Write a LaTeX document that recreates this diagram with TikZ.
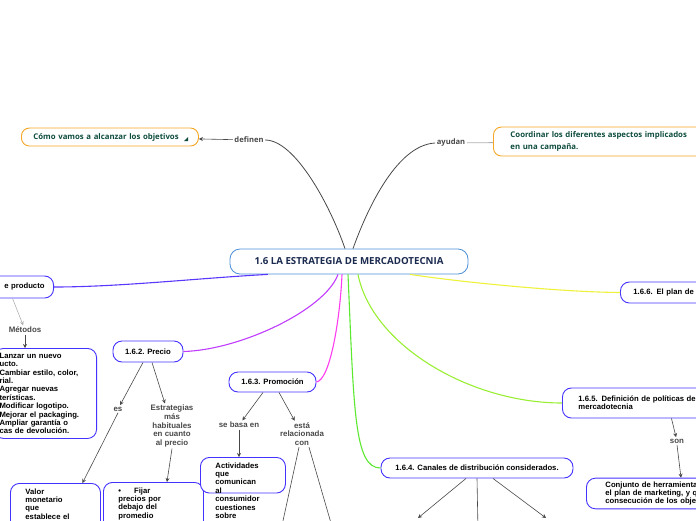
\documentclass[tikz,border=0pt]{standalone}
\usepackage{fontspec}
\setmainfont{Liberation Sans}
\newfontfamily\headfont{Open Sans}
\usetikzlibrary{arrows.meta,positioning}
\definecolor{blu}{HTML}{4433FF}
\definecolor{cprod}{HTML}{5A37FF}
\definecolor{cprec}{HTML}{C03CFF}
\definecolor{cprom}{HTML}{FF3CF0}
\definecolor{ccan}{HTML}{5CE830}
\definecolor{cpol}{HTML}{99EE33}
\definecolor{cplan}{HTML}{EEF23A}
\definecolor{cenb}{HTML}{4A8FD8}
\definecolor{navy}{HTML}{1B2B4F}
\definecolor{org}{HTML}{F5A623}
\definecolor{dgreen}{HTML}{0E4D3E}
\definecolor{lgr}{HTML}{B0B0B0}
\definecolor{dgr}{HTML}{484848}

\begin{document}
\begin{tikzpicture}[
  x=1pt,y=-1pt,
  main/.style={draw=cenb,line width=0.8pt,rounded corners=10pt,fill=white,text=navy,
    minimum width=238pt,minimum height=25pt,font=\headfont\bfseries\fontsize{9.7}{11}\selectfont},
  goal/.style={draw=org,line width=0.9pt,rounded corners=8pt,fill=white,text=dgreen,align=left,
    font=\headfont\bfseries\fontsize{7.8}{11.5}\selectfont},
  idea/.style={draw=blu,line width=0.9pt,rounded corners=9pt,fill=white,text=black,align=left,
    font=\bfseries\fontsize{7.7}{8.4}\selectfont},
  lbl/.style={text=dgr,inner sep=1.5pt,align=center,font=\bfseries\fontsize{7.9}{8.6}\selectfont},
  hlbl/.style={lbl,font=\headfont\bfseries\fontsize{7.6}{9}\selectfont},
  ar/.style={-{Stealth[length=4pt,width=4pt]},dgr,line width=0.6pt},
  br/.style={line width=1.1pt},
]
\useasboundingbox (0,0) rectangle (696,520);
\clip (0,0) rectangle (696,520);

% centre and top
\node[main] (cen) at (349,261.5) {1.6 LA ESTRATEGIA DE MERCADOTECNIA};
\node[goal,anchor=west,text width=153pt,inner xsep=12pt,minimum height=18pt] (como) at (21,137) {Cómo vamos a alcanzar los objetivos};
\fill[dgreen] (184,141) -- (188,137) -- (188,141) -- cycle;
\node[hlbl] (definen) at (249,140) {definen};
\node[hlbl] (ayudan) at (451,143) {ayudan};
\node[goal,anchor=west,text width=200pt,inner xsep=17pt,minimum height=29pt] (coord) at (493,141.5) {Coordinar los diferentes aspectos implicados\\en una campaña.};

% branches
\node[idea,anchor=east,text width=100pt,align=right,inner xsep=9pt,minimum height=22pt] (prod) at (54,287) {e producto};
\node[lbl] (metodos) at (25,330) {Métodos};
\node[idea,anchor=north east,text width=92pt,inner xsep=5pt,minimum height=90pt] (lanzar) at (97,348) {Lanzar un nuevo\\ucto.\\Cambiar estilo, color,\\rial.\\Agregar nuevas\\terísticas.\\Modificar logotipo.\\Mejorar el packaging.\\Ampliar garantía o\\cas de devolución.};

\node[idea,align=center,minimum width=70pt,minimum height=21pt] (precio) at (148,351.5) {1.6.2. Precio};
\node[lbl] (es) at (118,409) {es};
\node[lbl] (estrat) at (172,426) {Estrategias\\más\\habituales\\en cuanto\\al precio};
\node[idea,anchor=north west,text width=60pt,inner xsep=15pt,inner ysep=5pt,text depth=40pt] (valor) at (10,483) {Valor\\monetario\\que\\establece el};
\node[idea,anchor=north west,text width=70pt,inner xsep=15pt,inner ysep=5pt,text depth=40pt] (fijar) at (103,482) {\textbullet\hspace{13pt}Fijar\\precios por\\debajo del\\promedio};

\node[idea,align=center,minimum width=87pt,minimum height=20pt] (promo) at (272.5,382) {1.6.3. Promoción};
\node[lbl] (basa) at (239,425) {se basa en};
\node[lbl] (rel) at (302,434) {está\\relacionada\\con};
\node[idea,anchor=north west,text width=55pt,inner xsep=15pt,inner ysep=5pt,text depth=20pt] (activ) at (200,457) {Actividades\\que\\comunican\\al\\consumidor\\cuestiones\\sobre};
\coordinate (relA) at (281,530);
\coordinate (relB) at (333,530);

\node[idea,align=center,minimum width=192pt,minimum height=20pt] (canal) at (477,468) {1.6.4. Canales de distribución considerados.};
\coordinate (canL) at (418,518);
\coordinate (canM) at (478,530);
\coordinate (canR) at (546,518);

\node[idea,anchor=west,text width=150pt,inner xsep=16pt,minimum height=30pt] (polit) at (562,403) {1.6.5. Definición de políticas de\\mercadotecnia};
\node[lbl] (son) at (677,441) {son};
\node[idea,anchor=west,text width=150pt,inner xsep=19pt,minimum height=29pt] (conj) at (586,493.5) {Conjunto de herramientas\\el plan de marketing, y qu\\consecución de los objeti};

\node[idea,anchor=west,text width=100pt,inner xsep=13pt,minimum height=21pt] (plan) at (620,292.5) {1.6.6. El plan de m};

% connectors
\draw[ar] (definen) -- (como);
\draw[dgr,line width=0.8pt] ([xshift=-4pt]cen.north) .. controls (330,205) and (295,140) .. (definen.east);
\draw[dgr,line width=0.8pt] ([xshift=4pt]cen.north) .. controls (365,215) and (395,145) .. (ayudan.west);
\draw[lgr,line width=0.8pt] (ayudan) -- (coord);

\draw[br,cprod] ([xshift=-81pt]cen.south) .. controls (200,278) and (120,287) .. (prod.east);
\draw[br,cprec] ([xshift=-11pt]cen.south) .. controls (325,310) and (240,350) .. (precio.east);
\draw[br,cprom] ([xshift=-7pt]cen.south) .. controls (340,320) and (330,380) .. (promo.east);
\draw[br,ccan] ([xshift=-1pt]cen.south) .. controls (354,410) and (354,468) .. (canal.west);
\draw[br,cpol] ([xshift=9pt]cen.south) .. controls (372,345) and (470,403) .. (polit.west);
\draw[br,cplan] ([xshift=61pt]cen.south) .. controls (460,282) and (560,292) .. (plan.west);

\draw[ar,lgr] ([xshift=18pt]prod.south) -- (metodos);
\draw[ar] (metodos.south) -- (metodos.south |- lanzar.north);
\draw[ar] ([xshift=-5pt]precio.south) -- (es);
\draw[ar] ([xshift=4pt]precio.south) -- (estrat);
\draw[ar] (es.south) -- ([xshift=27pt]valor.north);
\draw[ar] (estrat.south) -- ([xshift=13.5pt]fijar.north);
\draw[ar] ([xshift=-9.5pt]promo.south) -- (basa);
\draw[ar] ([xshift=6.5pt]promo.south) -- (rel);
\draw[ar] (basa.south) -- (basa.south |- activ.north);
\draw[dgr,line width=0.6pt] ([xshift=-3pt]rel.south) -- (relA);
\draw[dgr,line width=0.6pt] ([xshift=7pt]rel.south) -- (relB);
\draw[ar] ([xshift=-11pt]canal.south) -- (canL);
\draw[dgr,line width=0.6pt] (canal.south) -- (canM);
\draw[ar] ([xshift=16pt]canal.south) -- (canR);
\draw[ar] ([xshift=18pt]polit.south) -- (son);
\draw[ar] (son.south) -- ([xshift=95pt]conj.north west);
\end{tikzpicture}
\end{document}
